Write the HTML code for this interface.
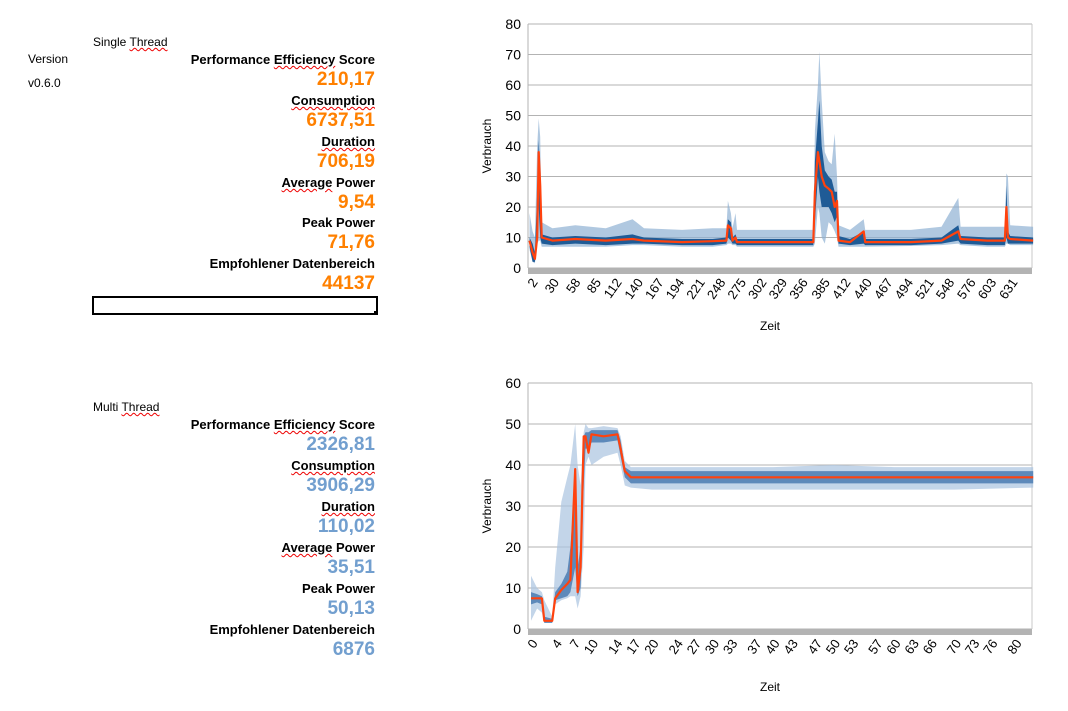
<!DOCTYPE html>
<html><head><meta charset="utf-8">
<style>
body{margin:0;width:1068px;height:711px;background:#fff;position:relative;overflow:hidden;font-family:"Liberation Sans",Arial,sans-serif;color:#000}
.t{position:absolute;white-space:nowrap;font-size:12px}
.lab{position:absolute;right:693px;white-space:nowrap;font-size:13px;font-weight:bold;text-align:right}
.val{position:absolute;right:693px;white-space:nowrap;font-size:19px;font-weight:bold;text-align:right}
.o{color:#ff8000}.b{color:#729fcf}
.sp{text-decoration:underline wavy #e00;text-decoration-thickness:1px}
svg{position:absolute;left:0;top:0}
</style></head><body>
<div class="t" style="left:93px;top:35px">Single <span class="sp">Thread</span></div>
<div class="t" style="left:28px;top:52px">Version</div>
<div class="t" style="left:28px;top:76px">v0.6.0</div>

<div class="lab" style="top:52px">Performance <span class="sp">Efficiency</span> Score</div>
<div class="val o" style="top:69px">210,17</div>
<div class="lab" style="top:93px"><span class="sp">Consumption</span></div>
<div class="val o" style="top:110px">6737,51</div>
<div class="lab" style="top:134px"><span class="sp">Duration</span></div>
<div class="val o" style="top:151px">706,19</div>
<div class="lab" style="top:175px"><span class="sp">Average</span> Power</div>
<div class="val o" style="top:192px">9,54</div>
<div class="lab" style="top:215px">Peak Power</div>
<div class="val o" style="top:232px">71,76</div>
<div class="lab" style="top:256px">Empfohlener Datenbereich</div>
<div class="val o" style="top:273px">44137</div>
<div style="position:absolute;left:92px;top:296px;width:282px;height:15px;border:2px solid #000"></div>
<div style="position:absolute;left:374px;top:311px;width:4px;height:4px;background:#000"></div>

<div class="t" style="left:93px;top:400px">Multi <span class="sp">Thread</span></div>
<div class="lab" style="top:417px">Performance <span class="sp">Efficiency</span> Score</div>
<div class="val b" style="top:434px">2326,81</div>
<div class="lab" style="top:458px"><span class="sp">Consumption</span></div>
<div class="val b" style="top:475px">3906,29</div>
<div class="lab" style="top:499px"><span class="sp">Duration</span></div>
<div class="val b" style="top:516px">110,02</div>
<div class="lab" style="top:540px"><span class="sp">Average</span> Power</div>
<div class="val b" style="top:557px">35,51</div>
<div class="lab" style="top:581px">Peak Power</div>
<div class="val b" style="top:598px">50,13</div>
<div class="lab" style="top:622px">Empfohlener Datenbereich</div>
<div class="val b" style="top:639px">6876</div>

<svg id="svg" width="1068" height="711"></svg>
<script>
// Single thread chart data
const stTime = [0,4,7,10,12,14,16,30,60,100,135,150,200,240,258,260,264,266,270,272,300,350,372,374,378,380,383,387,392,396,400,403,405,420,438,440,500,540,562,565,600,623,625,627,630,660];
const stMean = [9,5,3,10,38,27,10,9,9.5,9,9.5,9,8.5,8.8,9,14,13,9,10,8.5,8.5,8.5,8.5,25,38,35,30,27,26,25,20,22,9,8.5,12,8.5,8.5,9,12,9.5,9,9,20,10,9.5,9];
const stHigh = [18,12,10,40,49,43,15,13,14,13,16,13,12.5,13,13,22,18,13,18,12.5,12.5,12.5,12.5,45,60,71,55,38,35,34,44,30,14,12.5,16,12.5,12.5,13.5,23,13.5,13.5,13.5,31,30,14,13.5];
const stLow = [6,2,1.5,8,9,9,7,7,7,7,7.5,7.5,7,7,7.5,8,8,7.5,7.5,7,7,7,7,8,20,18,10,8,15,14,12,10,7,7,7,7,7.2,7.5,8,7.5,7,7,8,8,7.5,7.5];
const stInHigh = [10,8,5,25,42,30,11,10,10.5,10,11,10,9.5,9.5,10,16,15,10,11,9.5,9.5,9.5,9.5,35,48,55,40,32,30,29,25,25,10.5,9.5,12,9.5,9.5,10,14,10.5,10,10,27,12,10.5,10];
const stInLow = [7,2,2,8,20,10,8,7.5,8,7.5,8,8,7.5,7.5,8,10,9,8,8,7.5,7.5,7.5,7.5,15,30,25,20,20,20,18,15,17,8,7.5,8,7.5,7.5,8,9,8,7.5,7.5,10,8,8,8];
const stTicks = [2,30,58,85,112,140,167,194,221,248,275,302,329,356,385,412,440,467,494,521,548,576,603,631];
const stYTicks = [0,10,20,30,40,50,60,70,80];
// Multi thread chart data
const mtTime = [0,1,1.8,2.2,3.5,4,5,6,6.5,7.3,7.7,8.2,8.7,9,9.5,10,12,14.3,14.8,15.5,16.5,20,30,40,50,60,70,83];
const mtMean = [7.5,7.5,7.5,2,2,7.5,9.5,11,12,39,9,15,47,47,43,47.5,47,47.5,44,38.5,37,37,37,37,37,37,37,37];
const mtHigh = [13,10,9,7,3,15,31,37,40,50,40,35,48,50,49,49,49.5,49,47,41,39.5,39.5,39.5,39.5,40,39.5,39.5,39.5];
const mtLow = [2,5,4,1.5,1.5,6,7,7.5,8,8,5,8,20,40,42,40,42,43,40,35,34.5,34,34,34,34,34,34,34.5];
const mtInHigh = [9,8.5,8,3,2.5,9,11,14,20,36,15,20,47,48,48,48.5,48.5,48.5,46,39.5,38.5,38.5,38.5,38.5,38.5,38.5,38.5,38.5];
const mtInLow = [6,6.5,6,1.5,1.5,7,7.5,8,9,15,8,10,35,44,44,45.5,45.5,46,42,37,35.5,35.5,35.5,35.5,35.5,35.5,35.5,35.5];
const mtTicks = [0,4,7,10,14,17,20,24,27,30,33,37,40,43,47,50,53,57,60,63,66,70,73,76,80];
const mtYTicks = [0,10,20,30,40,50,60];

const NS='http://www.w3.org/2000/svg';
const svg=document.getElementById('svg');
function mk(tag,attrs,parent){const e=document.createElementNS(NS,tag);for(const k in attrs)e.setAttribute(k,attrs[k]);(parent||svg).appendChild(e);return e;}

function chart(c){
  const g=mk('g',{});
  
  
  const L=528,R=1032,T=c.top,B=c.bottom;
  const xs=t=>L+(t-c.xmin)/(c.xmax-c.xmin)*(R-L);
  const ys=v=>B-(v/c.ymax)*(B-T);
  c.yTicks.forEach(v=>{
    const ln=mk('line',{x1:L,x2:R,y1:ys(v),y2:ys(v),stroke:'#b3b3b3','stroke-width':1},g);
    
    
    const tx=mk('text',{x:L-7,y:ys(v)+5,'text-anchor':'end','font-size':14,'font-family':'Liberation Sans, sans-serif'},g);
    tx.textContent=v;
    
    
  });
  mk('line',{x1:R,x2:R,y1:T,y2:B,stroke:'#c8c8c8','stroke-width':1},g);
  mk('line',{x1:L,x2:L,y1:T,y2:B,stroke:'#b3b3b3','stroke-width':1},g);
  function band(hi,lo,fill,op,nm){
    let d='M'+c.t.map((t,i)=>xs(t).toFixed(1)+','+ys(hi[i]).toFixed(1)).join('L');
    for(let i=c.t.length-1;i>=0;i--)d+='L'+xs(c.t[i]).toFixed(1)+','+ys(lo[i]).toFixed(1);
    const p=mk('path',{d:d+'Z',fill:fill,'fill-opacity':op},g);
    
    
  }
  band(c.hi,c.lo,c.outer,0.7,'series-range-band');
  band(c.inHi,c.inLo,c.inner,1,'series-core-band');
  const line=mk('polyline',{points:c.t.map((t,i)=>xs(t).toFixed(1)+','+ys(c.mean[i]).toFixed(1)).join(' '),fill:'none',stroke:'#ff420e','stroke-width':2.2,'stroke-linejoin':'round'},g);
  
  
  const ax=mk('rect',{x:L,y:B,width:R-L,height:6,fill:'#b3b3b3'},g);
  
  
  c.xTicks.forEach(t=>{
    const x=xs(t), y=B+12;
    const tx=mk('text',{x:x+4,y:y+4,'text-anchor':'end','font-size':13,'font-family':'Liberation Sans, sans-serif',transform:'rotate(-55 '+(x+4)+' '+(y)+')'},g);
    tx.textContent=t;
    
    
  });
  const xt=mk('text',{x:770,y:B+62,'text-anchor':'middle','font-size':12,'font-family':'Liberation Sans, sans-serif'},g);
  xt.textContent='Zeit';
  
  
  const cy=(T+B)/2;
  const yt=mk('text',{x:491,y:cy,'text-anchor':'middle','font-size':12,'font-family':'Liberation Sans, sans-serif',transform:'rotate(-90 491 '+cy+')'},g);
  yt.textContent='Verbrauch';
  
  
}
chart({name:'single-thread-chart',top:24,bottom:268,xmin:-2,xmax:658.6,ymax:80,t:stTime,mean:stMean,hi:stHigh,lo:stLow,inHi:stInHigh,inLo:stInLow,xTicks:stTicks,yTicks:stYTicks,outer:'#8fb0d3',inner:'#1f5b96'});
chart({name:'multi-thread-chart',top:383,bottom:629,xmin:-0.5,xmax:82.8,ymax:60,t:mtTime,mean:mtMean,hi:mtHigh,lo:mtLow,inHi:mtInHigh,inLo:mtInLow,xTicks:mtTicks,yTicks:mtYTicks,outer:'#a9c3e0',inner:'#5d89ba'});
</script>
</body></html>
